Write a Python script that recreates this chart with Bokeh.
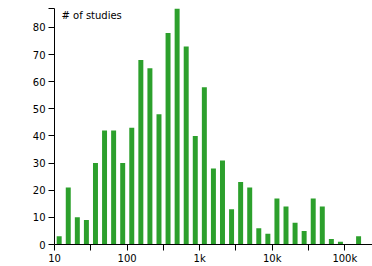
import numpy as np
from bokeh.plotting import figure
from bokeh.models import Range1d, FixedTicker, Label, ColumnDataSource
from bokeh.embed import file_html
from bokeh.resources import INLINE

# histogram of study sizes, 8 log bins per decade starting at 10
counts = [3, 21, 10, 9, 30, 42, 42, 30, 43, 68, 65, 48, 78, 87, 73, 40,
          58, 28, 31, 13, 23, 21, 6, 4, 17, 14, 8, 5, 17, 14, 2, 1, 0, 3]
bins_per_decade = 8
x_start = 10
y_ticks = [0, 10, 20, 30, 40, 50, 60, 70, 80]
x_tick_labels = {10: "10", 100: "100", 1000: "1k", 10000: "10k", 100000: "100k"}
y_label = "# of studies"

n = len(counts)
edges = x_start * 10 ** (np.arange(n + 1) / bins_per_decade)
y_max = max(counts)

px_per_decade = 72.65
inset_l = 10 ** (2.2 / px_per_decade)
inset_r = 10 ** (1.9 / px_per_decade)

src = ColumnDataSource(dict(left=edges[:-1] * inset_l, right=edges[1:] / inset_r,
                            top=counts, bottom=[0] * n))

W, H = 372, 266
p = figure(width=W, height=H, x_axis_type="log", output_backend="svg",
           toolbar_location=None, min_border_left=54, min_border_right=0,
           min_border_top=8, min_border_bottom=20)
p.outline_line_color = None
p.xgrid.visible = False
p.ygrid.visible = False
p.x_range = Range1d(x_start, x_start * 10 ** (318.3 / px_per_decade))
p.y_range = Range1d(0, y_max)

p.quad(left="left", right="right", top="top", bottom="bottom", source=src,
       fill_color="#2ca02c", line_color=None)

# x axis: half-decade ticks, labels at decades
xt = [x_start * 10 ** (k / 2) for k in range(0, 11)]
p.xaxis.ticker = FixedTicker(ticks=xt)
p.xaxis.major_label_overrides = {float(t): x_tick_labels.get(int(round(t)), "") if abs(np.log10(t) % 1) < 1e-9 else "" for t in xt}
p.xaxis.minor_tick_line_color = None

p.yaxis.ticker = FixedTicker(ticks=y_ticks + [y_max])
p.yaxis.major_label_overrides = {y_max: ""}
p.yaxis.minor_tick_line_color = None

for ax in (p.xaxis, p.yaxis):
    ax.axis_line_color = "black"
    ax.major_tick_line_color = "black"
    ax.major_tick_out = 6
    ax.major_tick_in = 0
    ax.major_label_text_font = "DejaVu Sans"
    ax.major_label_text_font_size = "10px"
    ax.major_label_text_color = "black"
    ax.major_label_standoff = 3
p.xaxis.major_label_standoff = 2

p.add_layout(Label(x=x_start, y=y_max, x_offset=7, y_offset=-1, text=y_label,
                   text_font="DejaVu Sans", text_font_size="10px",
                   text_color="black", text_baseline="top"))

open("out.html", "w").write(file_html(p, INLINE))
